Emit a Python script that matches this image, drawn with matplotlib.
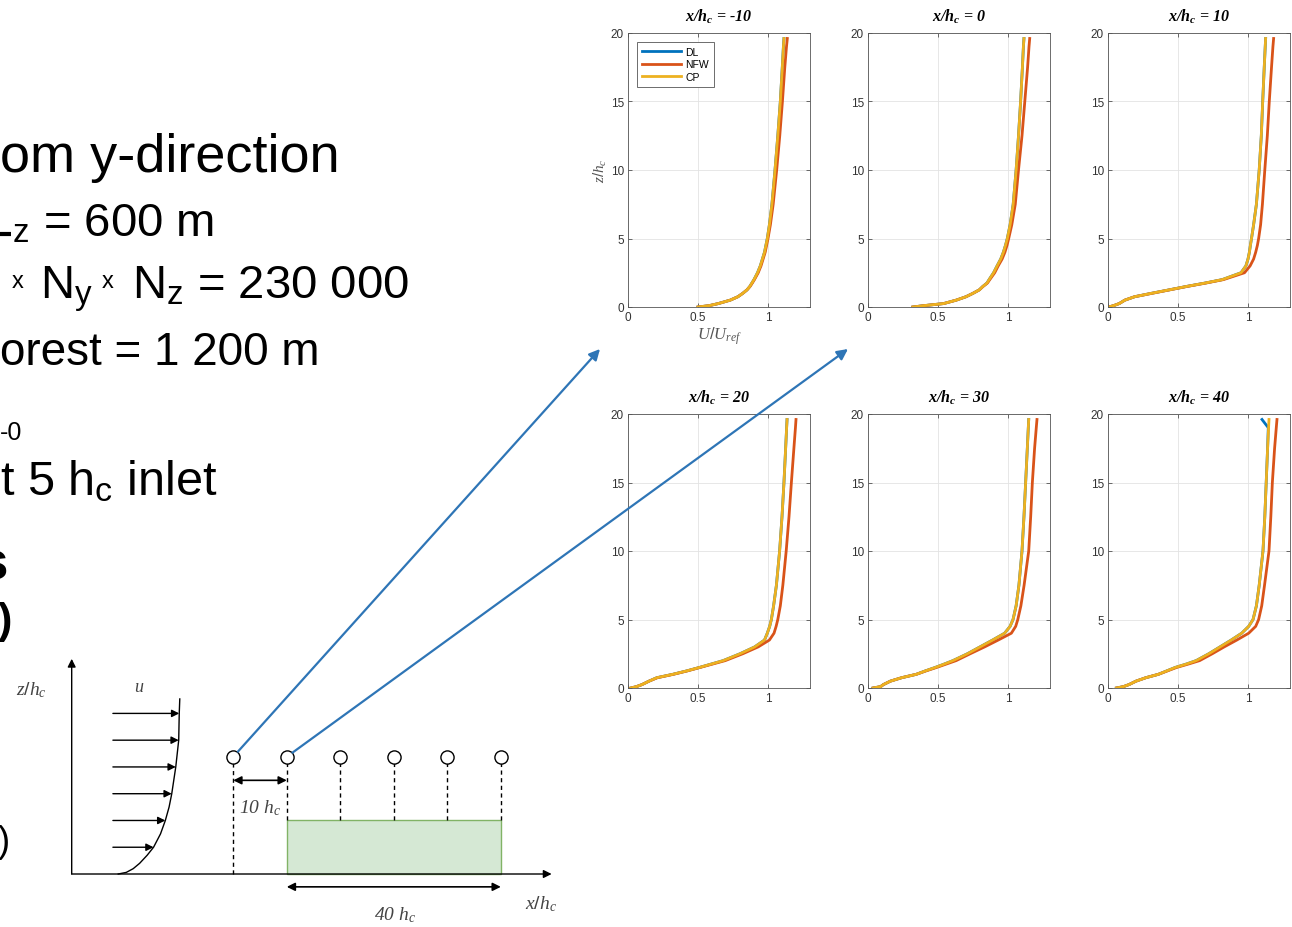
import numpy as np
import matplotlib
matplotlib.use('Agg')
import matplotlib.pyplot as plt
from matplotlib.patches import Rectangle, ConnectionPatch

plt.rcParams['font.family'] = ['Liberation Sans', 'DejaVu Sans']
plt.rcParams['mathtext.fontset'] = 'custom'
plt.rcParams['mathtext.rm'] = 'Liberation Sans'
plt.rcParams['mathtext.it'] = 'Liberation Serif:italic'
plt.rcParams['mathtext.bf'] = 'Liberation Serif:bold:italic'

# probe stations x/h_c and heights z/h_c of the profiles
stations = [-10, 0, 10, 20, 30, 40]
station_labels = ['-10', '0', '10', '20', '30', '40']
z_hc = [0, 0.1, 0.25, 0.5, 0.75, 1, 1.25, 1.5, 1.75, 2, 2.5, 3, 3.5, 4, 4.5, 5,
        6, 7.5, 10, 12.5, 15, 17.5, 19, 19.6]

# U/U_ref
cp_m10 = [0.50, 0.58, 0.645, 0.73, 0.785, 0.82, 0.85, 0.87, 0.885, 0.90, 0.925, 0.945,
          0.96, 0.975, 0.985, 0.995, 1.01, 1.028, 1.05, 1.07, 1.088, 1.102, 1.11, 1.114]
nfw_m10 = [0.50, 0.58, 0.645, 0.73, 0.785, 0.82, 0.85, 0.872, 0.888, 0.903, 0.93, 0.95,
           0.965, 0.98, 0.99, 1.0, 1.017, 1.037, 1.062, 1.084, 1.103, 1.12, 1.132, 1.138]
cp_0 = [0.32, 0.40, 0.54, 0.63, 0.70, 0.75, 0.795, 0.82, 0.85, 0.865, 0.897, 0.922,
        0.948, 0.967, 0.982, 0.995, 1.015, 1.037, 1.058, 1.075, 1.09, 1.103, 1.11, 1.114]
nfw_0 = [0.32, 0.40, 0.54, 0.63, 0.70, 0.75, 0.795, 0.822, 0.853, 0.87, 0.905, 0.93,
         0.958, 0.978, 0.993, 1.005, 1.027, 1.052, 1.075, 1.10, 1.12, 1.14, 1.15, 1.155]
cp_10 = [0.005, 0.04, 0.08, 0.12, 0.19, 0.31, 0.436, 0.56, 0.694, 0.816, 0.95, 0.985,
         1.0, 1.01, 1.017, 1.025, 1.04, 1.06, 1.08, 1.095, 1.105, 1.116, 1.123, 1.126]
nfw_10 = [0.005, 0.04, 0.08, 0.12, 0.19, 0.315, 0.44, 0.565, 0.70, 0.825, 0.975, 1.015,
          1.04, 1.055, 1.067, 1.076, 1.09, 1.103, 1.12, 1.138, 1.152, 1.168, 1.178, 1.183]
cp_20 = [0.02, 0.06, 0.10, 0.15, 0.205, 0.32, 0.42, 0.51, 0.595, 0.68, 0.80, 0.905,
         0.975, 0.995, 1.012, 1.024, 1.04, 1.06, 1.083, 1.10, 1.114, 1.126, 1.133, 1.136]
nfw_20 = [0.02, 0.06, 0.10, 0.15, 0.21, 0.325, 0.425, 0.515, 0.605, 0.695, 0.82, 0.93,
          1.01, 1.043, 1.058, 1.07, 1.088, 1.106, 1.13, 1.15, 1.167, 1.185, 1.196, 1.20]
cp_30 = [0.036, 0.09, 0.11, 0.16, 0.24, 0.345, 0.41, 0.48, 0.545, 0.607, 0.71, 0.80,
         0.89, 0.976, 1.015, 1.036, 1.058, 1.078, 1.10, 1.114, 1.126, 1.138, 1.145, 1.148]
nfw_30 = [0.036, 0.09, 0.11, 0.16, 0.24, 0.345, 0.415, 0.49, 0.56, 0.63, 0.73, 0.833,
          0.93, 1.024, 1.055, 1.07, 1.092, 1.115, 1.148, 1.162, 1.174, 1.19, 1.202, 1.207]
cp_40 = [0.06, 0.11, 0.15, 0.20, 0.27, 0.36, 0.42, 0.48, 0.56, 0.63, 0.72, 0.80,
         0.88, 0.955, 1.005, 1.036, 1.06, 1.08, 1.107, 1.12, 1.13, 1.14, 1.147, 1.15]
nfw_40 = [0.06, 0.11, 0.15, 0.20, 0.27, 0.36, 0.425, 0.49, 0.575, 0.655, 0.745, 0.83,
          0.92, 1.005, 1.055, 1.076, 1.098, 1.118, 1.15, 1.163, 1.174, 1.19, 1.202, 1.207]
dl_40 = [0.06, 0.11, 0.15, 0.20, 0.27, 0.36, 0.42, 0.48, 0.56, 0.63, 0.72, 0.80,
         0.88, 0.955, 1.005, 1.036, 1.06, 1.08, 1.107, 1.12, 1.13, 1.14, 1.145, 1.10]
dl_all = [cp_m10, cp_0, cp_10, cp_20, cp_30, dl_40]
nfw_all = [nfw_m10, nfw_0, nfw_10, nfw_20, nfw_30, nfw_40]
cp_all = [cp_m10, cp_0, cp_10, cp_20, cp_30, cp_40]

# sketch of the inflow profile (z/h_c, offset in h_c)
inflow_z = [0, 0.3, 1, 2, 3.5, 5, 7.5, 10, 12.5, 15, 20, 25, 30, 32.7]
inflow_u = [0, 1.5, 2.8, 4.0, 5.4, 6.6, 7.9, 8.8, 9.5, 10.0, 10.75, 11.3, 11.4, 11.5]
arrow_z = [5, 10, 15, 20, 25, 30]
probe_z = 21.9
canopy_h = 10

W, H = 1292, 928
col_dl, col_nfw, col_cp = '#0072BD', '#D95319', '#EDB120'
blue = '#2E75B6'
grey = '#333333'

fig = plt.figure(figsize=(W / 100, H / 100), dpi=100)


def px_axes(l, t, r, b):
    return fig.add_axes([l / W, 1 - b / H, (r - l) / W, (b - t) / H])


# slide text (cut at the left edge)
ov = fig.add_axes([0, 0, 1, 1])
ov.set_xlim(0, W)
ov.set_ylim(H, 0)
ov.axis('off')
ov.text(0, 172, 'om y-direction', fontsize=39, va='baseline')
ov.plot([0, 11], [234.5, 234.5], color='black', lw=3, solid_capstyle='butt')
ov.text(12, 237, r'${}_\mathrm{z}$ = 600 m', fontsize=34, va='baseline')
ov.text(12, 288, 'x', fontsize=17, va='baseline')
ov.text(40, 299, r'N$_\mathrm{y}$', fontsize=34, va='baseline')
ov.text(102, 288, 'x', fontsize=17, va='baseline')
ov.text(132, 299, r'N$_\mathrm{z}$ = 230 000', fontsize=34, va='baseline')
ov.text(0, 365, 'orest = 1 200 m', fontsize=33, va='baseline')
ov.text(0, 440, '-0', fontsize=18, va='baseline')
ov.text(0, 495, r't 5 h$_\mathrm{c}$ inlet', fontsize=35, va='baseline')
ov.text(-22, 580, 's', fontsize=38, fontweight='bold', va='baseline')
ov.text(-2, 633, ')', fontsize=31, fontweight='bold', va='baseline')
ov.text(-2, 852, ')', fontsize=26, va='baseline')

# profile panels
cols = [(628, 810), (868, 1050), (1108, 1290)]
rows = [(34, 308), (415, 689)]
axes = []
for i in range(len(stations)):
    l, r = cols[i % 3]
    t, b = rows[i // 3]
    ax = px_axes(l, t, r, b)
    ax.plot(dl_all[i], z_hc, color=col_dl, lw=2, label='DL')
    ax.plot(nfw_all[i], z_hc, color=col_nfw, lw=2, label='NFW')
    ax.plot(cp_all[i], z_hc, color=col_cp, lw=2, label='CP')
    ax.set_xlim(0, 1.3)
    ax.set_ylim(0, 20)
    ax.set_xticks([0, 0.5, 1])
    ax.set_xticklabels(['0', '0.5', '1'])
    ax.set_yticks([0, 5, 10, 15, 20])
    ax.grid(True, color='#e3e3e3', lw=0.6)
    ax.set_axisbelow(True)
    ax.tick_params(direction='in', length=3, width=0.5, top=True, right=True,
                   labelsize=8.5, colors=grey, pad=3)
    for s in ax.spines.values():
        s.set_color('#555555')
        s.set_linewidth(0.6)
    ax.set_title(r'$\mathbf{x/h_c}$ = ' + station_labels[i], fontsize=11.5,
                 family='Liberation Serif', fontweight='bold', fontstyle='italic',
                 pad=9)
    axes.append(ax)

axes[0].set_ylabel(r'$z/h_c$', fontsize=11, color='#555555', labelpad=1)
axes[0].set_xlabel(r'$U/U_{ref}$', fontsize=12, color='#555555', labelpad=1)
leg = axes[0].legend(loc='upper left', bbox_to_anchor=(0.049, 0.967), borderaxespad=0,
                     fontsize=7.5, handlelength=3.8, handletextpad=0.4,
                     labelspacing=0.25, borderpad=0.45, fancybox=False, framealpha=1)
leg.get_frame().set_edgecolor('#555555')
leg.get_frame().set_linewidth(0.6)

# sketch of the domain
ax_d = fig.add_axes([0, 0, 580 / W, 288 / H])
ax_d.set_xlim(-53.6, 54.8)
ax_d.set_ylim(-9.9, 43.9)
ax_d.axis('off')
x0 = -40.2
arr = dict(arrowstyle='-|>', color='black', lw=1, mutation_scale=12, shrinkA=0, shrinkB=0)
ax_d.annotate('', xy=(x0, 40.2), xytext=(x0, 0), arrowprops=arr)
ax_d.annotate('', xy=(49.5, 0), xytext=(x0, 0), arrowprops=arr)
ax_d.text(-47.7, 34.6, r'$z/h_c$', fontsize=14, color='#444444', ha='center', va='center')
ax_d.text(-27.5, 35.0, r'$u$', fontsize=13, color='#444444', ha='center', va='center')

base = -31.5
ax_d.plot(base + np.array(inflow_u), inflow_z, color='black', lw=1)
tips = base + np.interp(arrow_z, inflow_z, inflow_u)
for zz, xt in zip(arrow_z, tips):
    ax_d.annotate('', xy=(xt, zz), xytext=(-32.5, zz),
                  arrowprops=dict(arrowstyle='-|>', color='black', lw=1,
                                  mutation_scale=11, shrinkA=0, shrinkB=0))

ax_d.add_patch(Rectangle((stations[1], 0), stations[-1] - stations[1], canopy_h,
                         facecolor='#d5e8d4', edgecolor='#82b366', lw=1, zorder=2))
for st in stations:
    bottom = 0 if st < stations[1] else canopy_h
    ax_d.plot([st, st], [bottom, probe_z - 1.2], color='black', lw=1,
              ls=(0, (3, 2.5)), zorder=3)
ax_d.scatter(stations, [probe_z] * len(stations), s=90, facecolor='white',
             edgecolor='black', lw=1, zorder=4)

darr = dict(arrowstyle='<|-|>', color='black', lw=1.2, mutation_scale=12,
            shrinkA=0, shrinkB=0)
ax_d.annotate('', xy=(stations[1], 17.5), xytext=(stations[0], 17.5), arrowprops=darr)
ax_d.annotate('', xy=(stations[-1], -2.4), xytext=(stations[1], -2.4), arrowprops=darr)
ax_d.text(-5.0, 12.5, r'10 $h_c$', fontsize=14, family='Liberation Serif',
          fontstyle='italic', color='#444444', ha='center', va='center')
ax_d.text(20.2, -7.5, r'40 $h_c$', fontsize=14, family='Liberation Serif',
          fontstyle='italic', color='#444444', ha='center', va='center')
ax_d.text(47.5, -5.4, r'$x/h_c$', fontsize=14, color='#444444', ha='center', va='center')

# links from the probes to the panels
for st, target in zip(stations[:2], [(600, H - 350), (848, H - 350)]):
    con = ConnectionPatch(xyA=(st, probe_z), coordsA=ax_d.transData,
                          xyB=target, coordsB='figure pixels',
                          arrowstyle='-|>', color=blue, lw=1.6,
                          mutation_scale=16, shrinkA=5, shrinkB=0)
    fig.add_artist(con)

fig.savefig('out.png', dpi=100, facecolor='white')
